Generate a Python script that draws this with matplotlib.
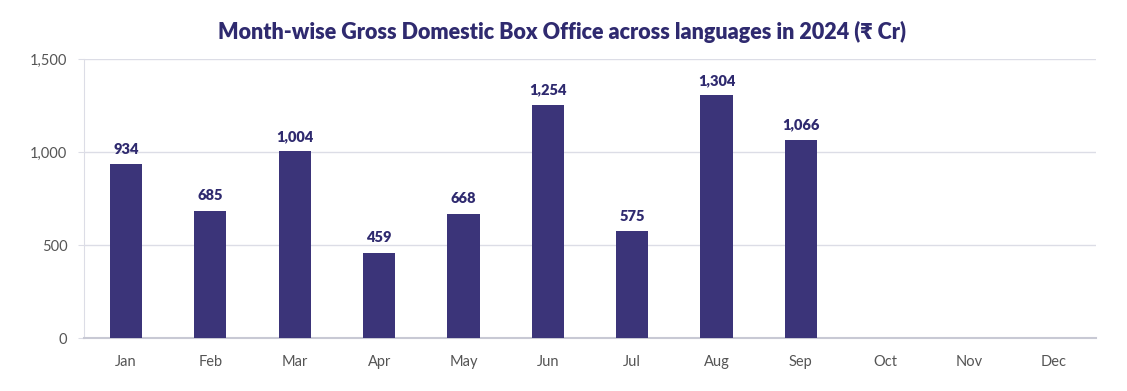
import matplotlib
matplotlib.use("Agg")
import matplotlib.pyplot as plt
from matplotlib.ticker import FuncFormatter

months = ["Jan", "Feb", "Mar", "Apr", "May", "Jun", "Jul", "Aug", "Sep", "Oct", "Nov", "Dec"]
gross = [934, 685, 1004, 459, 668, 1254, 575, 1304, 1066]
title = "Month-wise Gross Domestic Box Office across languages in 2024 (₹ Cr)"

plt.rcParams['font.family'] = ['Lato', 'DejaVu Sans']
bar_color = "#3b3479"
text_navy = "#2f2a6f"
grid_color = "#dcdde6"

fig = plt.figure(figsize=(11.27, 3.91), dpi=100)
ax = fig.add_axes([0.0745, 0.1355, 0.898, 0.7135])

x = list(range(len(months)))
ax.bar(x[:len(gross)], gross, width=0.38, color=bar_color, zorder=3)
for i, v in enumerate(gross):
    ax.annotate(f"{v:,}", (i, v), xytext=(0, 6), textcoords="offset points",
                ha="center", va="bottom", fontsize=10.5, fontweight="heavy", color=text_navy)

ax.set_xlim(-0.5, len(months) - 0.5)
ax.set_ylim(0, 1500)
ax.set_yticks([0, 500, 1000, 1500])
ax.yaxis.set_major_formatter(FuncFormatter(lambda v, p: f"{int(v):,}"))
ax.set_xticks(x)
ax.set_xticklabels(months)
ax.grid(axis="y", color=grid_color, linewidth=1, zorder=0)
for s in ["top", "right"]:
    ax.spines[s].set_visible(False)
ax.spines["left"].set_color(grid_color)
ax.spines["bottom"].set_color("#c8c9d4")
ax.spines["bottom"].set_linewidth(1.5)
ax.tick_params(axis="y", length=4, color=grid_color, labelsize=10.5, labelcolor="#555555", pad=8)
ax.tick_params(axis="x", length=0, labelsize=10.5, labelcolor="#555555", pad=12)

fig.text(0.499, 0.918, title, ha="center", va="center", fontsize=15.5, fontweight="heavy", color=text_navy)

fig.savefig("out.png", dpi=100, facecolor="white")
